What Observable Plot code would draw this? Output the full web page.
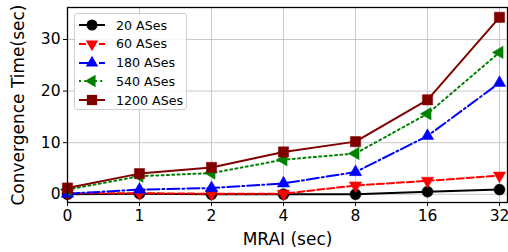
<!DOCTYPE html>
<html>
<head>
<meta charset="utf-8">
<script src="https://cdn.jsdelivr.net/npm/d3@7"></script>
<script src="https://cdn.jsdelivr.net/npm/@observablehq/plot@0.6"></script>
<style>
  html, body { margin: 0; padding: 0; background: #fff; }
  #wrap { position: relative; width: 508px; height: 252px; font-family: "DejaVu Sans", sans-serif; }
  #legend { position: absolute; left: 74px; top: 13px; width: 113px; height: 97px; box-sizing: border-box;
    border: 1px solid #d0d0d0; border-radius: 3px; background: rgba(255,255,255,0.85); }
  .row { position: absolute; left: 0; height: 19px; display: flex; align-items: center; font-size: 12.6px; color: #000; }
  .row svg { display: block; margin-left: 3px; margin-right: 10px; }
</style>
</head>
<body>
<div id="wrap"></div>
<script>
const mrai = ["0", "1", "2", "4", "8", "16", "32"];
const seriesNames = ["20 ASes", "60 ASes", "180 ASes", "540 ASes", "1200 ASes"];
const as20   = [0.0, 0.1, 0.0, 0.0, 0.0, 0.5, 0.9];
const as60   = [0.2, 0.2, 0.1, 0.1, 1.7, 2.6, 3.6];
const as180  = [0.1, 0.9, 1.2, 2.1, 4.3, 11.3, 21.6];
const as540  = [0.9, 3.5, 4.1, 6.7, 7.9, 15.6, 27.5];
const as1200 = [1.2, 4.0, 5.2, 8.2, 10.2, 18.3, 34.3];
const yTicks = [0, 10, 20, 30];
const xTitle = "MRAI (sec)";
const yTitle = "Convergence Time(sec)";

const styles = [
  {color: "#000000", dash: null, symbol: "circle", rotate: 0, r: 5.5},
  {color: "#ff0000", dash: "7,3", symbol: "triangle", rotate: 180, r: 4.6},
  {color: "#0000ff", dash: "12,3,2,3", symbol: "triangle", rotate: 0, r: 4.6},
  {color: "#008000", dash: "2,3.3", symbol: "triangle", rotate: -90, r: 4.6},
  {color: "#800000", dash: null, symbol: "square", rotate: 0, r: 5.8}
];
const allValues = [as20, as60, as180, as540, as1200];
const data = [];
allValues.forEach((vals, s) => vals.forEach((v, i) => data.push({series: seriesNames[s], s, x: mrai[i], y: v})));

const marks = [
  Plot.gridX(mrai, {stroke: "#c8c8c8", strokeOpacity: 1, strokeWidth: 1}),
  Plot.gridY(yTicks, {stroke: "#c8c8c8", strokeOpacity: 1, strokeWidth: 1}),
  Plot.axisX({ticks: mrai, tickSize: 4, tickPadding: 3, fontSize: 15.5, label: null}),
  Plot.axisY({ticks: yTicks, tickSize: 4, tickPadding: 3, fontSize: 15.5, label: null}),
  Plot.text([xTitle], {frameAnchor: "bottom", dy: 42, fontSize: 17, fill: "#000"}),
  Plot.text([yTitle], {frameAnchor: "left", textAnchor: "middle", dx: -49, rotate: -90, fontSize: 17, fill: "#000"})
];
styles.forEach((st, s) => {
  const d = data.filter(r => r.s === s);
  marks.push(Plot.line(d, {x: "x", y: "y", stroke: st.color, strokeWidth: 2, strokeDasharray: st.dash || undefined}));
  marks.push(Plot.dot(d, {x: "x", y: "y", symbol: st.symbol, fill: st.color, stroke: st.color, strokeWidth: 0.5, r: st.r, rotate: st.rotate}));
});
marks.push(Plot.frame({stroke: "#000", strokeWidth: 1.3}));

const chart = Plot.plot({
  width: 508, height: 252,
  marginLeft: 67, marginRight: 1, marginTop: 7, marginBottom: 50,
  style: {fontFamily: "DejaVu Sans, sans-serif", fontSize: "17px", color: "#000", background: "#fff"},
  x: {type: "point", domain: mrai, padding: 0.05, align: 0},
  y: {domain: [-1.6, 36.2]},
  marks
});
const wrap = document.getElementById("wrap");
wrap.appendChild(chart);

// legend
const legend = document.createElement("div");
legend.id = "legend";
styles.forEach((st, s) => {
  const row = document.createElement("div");
  row.className = "row";
  row.style.top = (1.5 + s * 18.8) + "px";
  const sym = {circle: d3.symbolCircle, triangle: d3.symbolTriangle, square: d3.symbolSquare}[st.symbol];
  const path = d3.symbol(sym, Math.PI * st.r * st.r)();
  row.innerHTML = `<svg width="28" height="14"><line x1="1" x2="27" y1="7" y2="7" stroke="${st.color}" stroke-width="2" ${st.dash ? `stroke-dasharray="${st.dash}"` : ""}/><path d="${path}" transform="translate(14,7) rotate(${st.rotate})" fill="${st.color}"/></svg><span>${seriesNames[s]}</span>`;
  legend.appendChild(row);
});
wrap.appendChild(legend);
</script>
</body>
</html>
